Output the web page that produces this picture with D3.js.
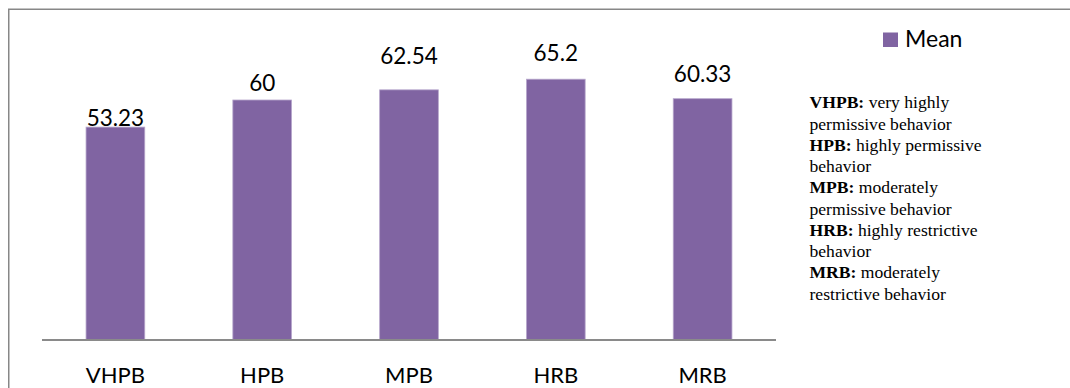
<!DOCTYPE html>
<html>
<head>
<meta charset="utf-8">
<script src="https://cdn.jsdelivr.net/npm/d3@7"></script>
<style>
  html, body { margin: 0; padding: 0; background: #fff; }
  svg { display: block; }
</style>
</head>
<body>
<svg id="chart" width="1070" height="388"></svg>
<script>
// Mean score per behaviour group
const categories = ["VHPB", "HPB", "MPB", "HRB", "MRB"];
const meanValues = [53.23, 60, 62.54, 65.2, 60.33];
const valueLabels = ["53.23", "60", "62.54", "65.2", "60.33"];
const seriesName = "Mean";

// Key to the abbreviations, one entry per group
const keyTerms = ["VHPB:", "HPB:", "MPB:", "HRB:", "MRB:"];
const keyMeanings = [
  ["very highly", "permissive behavior"],
  ["highly permissive", "behavior"],
  ["moderately", "permissive behavior"],
  ["highly restrictive", "behavior"],
  ["moderately", "restrictive behavior"]
];

const svg = d3.select("#chart");
const barColor = "#8064A2";
const sansFont = "Lato, 'Open Sans', sans-serif";
const serifFont = "'Liberation Serif', 'DejaVu Serif', serif";

// outer frame (only the top and left edges fall inside the view)
svg.append("rect")
  .attr("x", 8.75).attr("y", 9.25)
  .attr("width", 1200).attr("height", 600)
  .attr("fill", "none")
  .attr("stroke", "#878787")
  .attr("stroke-width", 1.5);

const plot = { left: 42, right: 776, top: 60, bottom: 340 };

const x = d3.scaleBand()
  .domain(categories)
  .range([plot.left, plot.right])
  .paddingInner(0.6)
  .paddingOuter(0.3);

const y = d3.scaleLinear()
  .domain([0, 70])
  .range([plot.bottom, plot.top]);

// bars
svg.append("g")
  .selectAll("rect")
  .data(meanValues)
  .join("rect")
  .attr("x", (d, i) => x(categories[i]))
  .attr("y", d => y(d))
  .attr("width", x.bandwidth())
  .attr("height", d => y(0) - y(d))
  .attr("fill", barColor)
  .attr("stroke", "#b7a7cc")
  .attr("stroke-width", 0.8);

// value labels sit at individually adjusted heights above their bars
const labelLift = [0.7, 8.6, 26, 18.7, 16.4];
svg.append("g")
  .selectAll("text")
  .data(meanValues)
  .join("text")
  .attr("x", (d, i) => x(categories[i]) + x.bandwidth() / 2)
  .attr("y", (d, i) => y(d) - labelLift[i])
  .attr("text-anchor", "middle")
  .attr("font-family", sansFont)
  .attr("font-size", 22.5)
  .attr("fill", "#000")
  .text((d, i) => valueLabels[i]);

// category axis
const xAxis = svg.append("g")
  .attr("transform", `translate(0,${plot.bottom})`)
  .call(d3.axisBottom(x).tickSize(0).tickPadding(0));
xAxis.select(".domain")
  .attr("stroke", "#8a8a8a")
  .attr("stroke-width", 1.8)
  .attr("d", `M${plot.left},0H${plot.right}`);
xAxis.selectAll(".tick text")
  .attr("y", 42.7)
  .attr("dy", 0)
  .attr("font-family", sansFont)
  .attr("font-size", 22)
  .attr("fill", "#000");

// legend
const legend = svg.append("g");
legend.append("rect")
  .attr("x", 883).attr("y", 32.5)
  .attr("width", 15).attr("height", 14.5)
  .attr("fill", barColor);
legend.append("text")
  .attr("x", 905).attr("y", 47.3)
  .attr("font-family", sansFont)
  .attr("font-size", 23)
  .attr("fill", "#000")
  .text(seriesName);

// abbreviation key
const keyLines = [];
keyTerms.forEach((term, i) => {
  keyLines.push({ term: term, rest: " " + keyMeanings[i][0] });
  keyLines.push({ term: null, rest: keyMeanings[i][1] });
});
const key = svg.append("g")
  .attr("font-family", serifFont)
  .attr("font-size", 17.6)
  .attr("fill", "#000");
key.selectAll("text")
  .data(keyLines)
  .join("text")
  .attr("x", 809.5)
  .attr("y", (d, i) => 108.3 + i * 21.25)
  .each(function (d) {
    const t = d3.select(this);
    if (d.term) {
      t.append("tspan").attr("font-weight", "bold").text(d.term);
    }
    t.append("tspan").attr("xml:space", "preserve").text(d.rest);
  });
</script>
</body>
</html>
